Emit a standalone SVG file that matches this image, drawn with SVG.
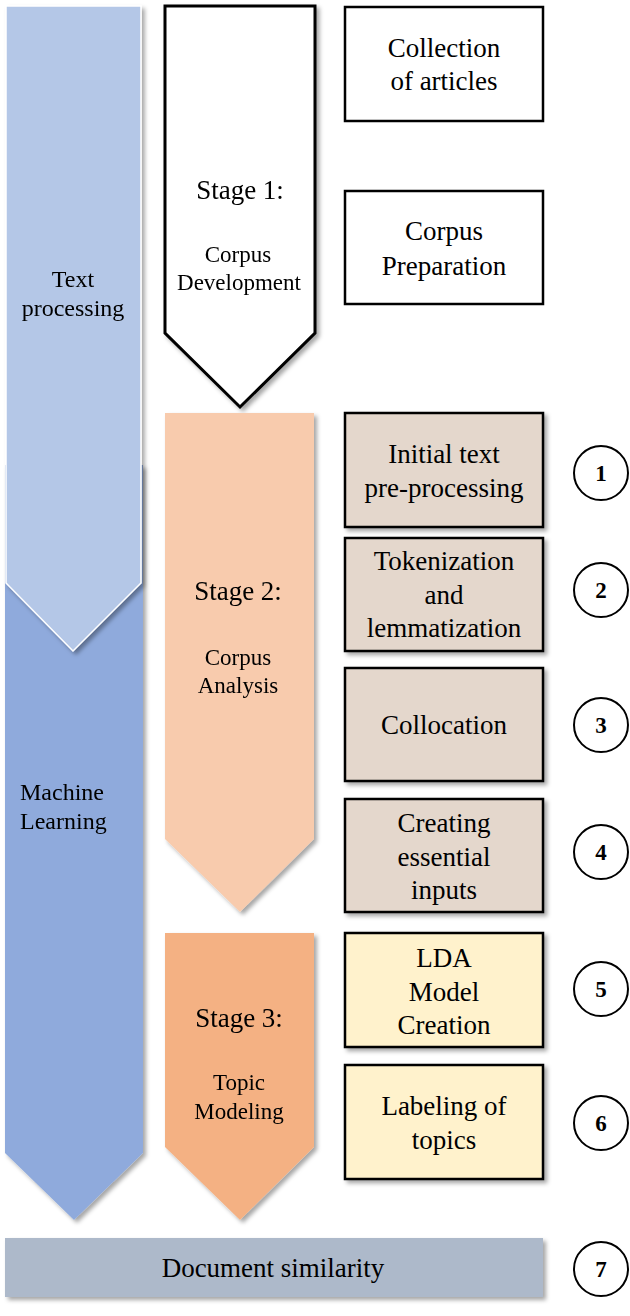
<svg xmlns="http://www.w3.org/2000/svg" width="630" height="1316" viewBox="0 0 630 1316">
<style>
text{font-family:"Liberation Serif","Times New Roman",serif;fill:#000;text-anchor:middle}
.box{stroke:#000;stroke-width:2.5}
.wbox{fill:#fff;stroke:#000;stroke-width:2.5}
.tan{fill:#E4D7CC}
.yel{fill:#FFF2CC}
.circ{fill:#fff;stroke:#000;stroke-width:2}
.num{font-weight:bold;font-size:23px}
.bt{font-size:27px}
.st{font-size:27px}
.sub{font-size:23px}
.side{font-size:24px}
</style>
<defs>
<filter id="sh" x="-10%" y="-10%" width="130%" height="130%">
<feDropShadow dx="3" dy="3" stdDeviation="2" flood-color="#000" flood-opacity="0.35"/>
</filter>
</defs>
<rect width="630" height="1316" fill="#fff"/>

<g id="machine-learning" filter="url(#sh)">
<polygon points="5,465 143,465 143,1153 74,1220 5,1153" fill="#8FAADC"/>
<text class="side" x="20" y="800" style="text-anchor:start">Machine</text>
<text class="side" x="20" y="829" style="text-anchor:start">Learning</text>
</g>

<g id="text-processing" filter="url(#sh)">
<polygon points="6,6 141,6 141,583 73,651 6,583" fill="#B4C7E7" stroke="#fff" stroke-width="1.5"/>
<text class="side" x="73" y="287">Text</text>
<text class="side" x="73" y="316">processing</text>
</g>

<g id="stage1" filter="url(#sh)">
<polygon points="165,6 315,6 315,333 240,407 165,333" fill="#fff" stroke="#000" stroke-width="3"/>
<text class="st" x="240" y="199">Stage 1:</text>
<text class="sub" x="238" y="262">Corpus</text>
<text class="sub" x="239" y="290">Development</text>
</g>

<g id="stage2" filter="url(#sh)">
<polygon points="165,413 314,413 314,839 240,912 165,839" fill="#F8CBAD"/>
<text class="st" x="238" y="600">Stage 2:</text>
<text class="sub" x="238" y="665">Corpus</text>
<text class="sub" x="238" y="693">Analysis</text>
</g>

<g id="stage3" filter="url(#sh)">
<polygon points="165,933 314,933 314,1147 240,1220 165,1147" fill="#F4B183"/>
<text class="st" x="239" y="1027">Stage 3:</text>
<text class="sub" x="239" y="1090">Topic</text>
<text class="sub" x="239" y="1119">Modeling</text>
</g>

<g id="collection">
<rect class="wbox" x="345" y="7" width="198" height="114"/>
<text class="bt" x="444" y="57">Collection</text>
<text class="bt" x="444" y="90">of articles</text>
</g>

<g id="corpus-prep">
<rect class="wbox" x="345" y="191" width="198" height="113"/>
<text class="bt" x="444" y="240">Corpus</text>
<text class="bt" x="444" y="275">Preparation</text>
</g>

<g id="step1">
<rect class="box tan" x="345" y="413" width="198" height="114" filter="url(#sh)"/>
<text class="bt" x="444" y="463">Initial text</text>
<text class="bt" x="444" y="497">pre-processing</text>
</g>

<g id="step2">
<rect class="box tan" x="345" y="538" width="198" height="113" filter="url(#sh)"/>
<text class="bt" x="444" y="570">Tokenization</text>
<text class="bt" x="444" y="604">and</text>
<text class="bt" x="444" y="637">lemmatization</text>
</g>

<g id="step3">
<rect class="box tan" x="345" y="668" width="198" height="113" filter="url(#sh)"/>
<text class="bt" x="444" y="734">Collocation</text>
</g>

<g id="step4">
<rect class="box tan" x="345" y="799" width="198" height="113" filter="url(#sh)"/>
<text class="bt" x="444" y="832">Creating</text>
<text class="bt" x="444" y="866">essential</text>
<text class="bt" x="444" y="899">inputs</text>
</g>

<g id="step5">
<rect class="box yel" x="345" y="933" width="198" height="114" filter="url(#sh)"/>
<text class="bt" x="444" y="967">LDA</text>
<text class="bt" x="444" y="1001">Model</text>
<text class="bt" x="444" y="1034">Creation</text>
</g>

<g id="step6">
<rect class="box yel" x="345" y="1065" width="198" height="114" filter="url(#sh)"/>
<text class="bt" x="444" y="1115">Labeling of</text>
<text class="bt" x="444" y="1149">topics</text>
</g>

<g id="doc-similarity">
<rect x="5" y="1238" width="538" height="59" fill="#ADB9CA" filter="url(#sh)"/>
<text x="273" y="1277" style="font-size:27px">Document similarity</text>
</g>

<g id="num1"><circle class="circ" cx="601" cy="473" r="27"/><text class="num" x="601" y="481">1</text></g>
<g id="num2"><circle class="circ" cx="601" cy="590" r="27"/><text class="num" x="601" y="598">2</text></g>
<g id="num3"><circle class="circ" cx="601" cy="725" r="27"/><text class="num" x="601" y="733">3</text></g>
<g id="num4"><circle class="circ" cx="601" cy="852" r="27"/><text class="num" x="601" y="860">4</text></g>
<g id="num5"><circle class="circ" cx="601" cy="989" r="27"/><text class="num" x="601" y="997">5</text></g>
<g id="num6"><circle class="circ" cx="601" cy="1123" r="27"/><text class="num" x="601" y="1131">6</text></g>
<g id="num7"><circle class="circ" cx="601" cy="1269" r="27"/><text class="num" x="601" y="1277">7</text></g>

<g id="connectors"/>
</svg>
